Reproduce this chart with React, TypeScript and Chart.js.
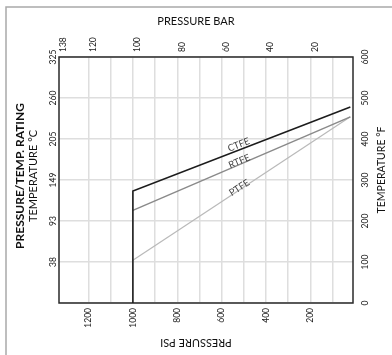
import React, { useEffect, useRef } from "react";
import { Chart, registerables } from "chart.js";

Chart.register(...registerables);

// ---- data ----
const PSI_GRID = [100, 200, 300, 400, 500, 600, 700, 800, 900, 1000, 1100, 1200];
const PSI_TICKS = [200, 400, 600, 800, 1000, 1200];
const PSI_MIN = 8;
const PSI_MAX = 1333;
const BAR_TICKS = [20, 40, 60, 80, 100, 120, 138];
const BAR_MIN = 0.8;
const BAR_MAX = 133.3;
const F_TICKS = [0, 100, 200, 300, 400, 500, 600];
const C_TICK_AT_F = [100, 200, 300, 400, 500, 600];
const C_TICKS = [38, 93, 149, 205, 260, 325];

const SERIES = ["CTFE", "RTFE", "PTFE"];
const CTFE_PSI = [1000, 1000, 20];
const CTFE_F = [0, 273, 478];
const RTFE_PSI = [1000, 20];
const RTFE_F = [226, 454];
const PTFE_PSI = [1000, 20];
const PTFE_F = [104, 454];
const LABEL_AT_PSI = 515;

// ---- styles ----
const FONT = "Lato, 'DejaVu Sans', sans-serif";
const COLORS = ["#1c1c1c", "#8a8a8a", "#b9b9b9"];
const WIDTHS = [1.6, 1.5, 1.2];
const LABEL_OFFSETS = [5, 3, 2];

const mk = (xs: number[], ys: number[]) => xs.map((x, i) => ({ x, y: ys[i] }));

function vtext(ctx: CanvasRenderingContext2D, text: string, x: number, y: number, align: CanvasTextAlign) {
  ctx.save();
  ctx.translate(x, y);
  ctx.rotate(-Math.PI / 2);
  ctx.textAlign = align;
  ctx.textBaseline = "middle";
  ctx.fillText(text, 0, 0);
  ctx.restore();
}

const decor = {
  id: "decor",
  beforeDraw(chart: any) {
    const ctx = chart.ctx as CanvasRenderingContext2D;
    ctx.save();
    ctx.fillStyle = "#ffffff";
    ctx.fillRect(0, 0, chart.width, chart.height);
    ctx.strokeStyle = "#a9a9a9";
    ctx.lineWidth = 1.5;
    ctx.beginPath();
    ctx.moveTo(6, chart.height + 4);
    ctx.lineTo(6, 7);
    ctx.lineTo(chart.width + 4, 7);
    ctx.stroke();
    ctx.restore();
  },
  beforeDatasetsDraw(chart: any) {
    const { left, right, top, bottom } = chart.chartArea;
    const ctx = chart.ctx as CanvasRenderingContext2D;
    ctx.save();
    ctx.strokeStyle = "#2a2a2a";
    ctx.lineWidth = 1.5;
    ctx.strokeRect(left, top, right - left, bottom - top);
    ctx.restore();
  },
  afterDatasetsDraw(chart: any) {
    const ctx = chart.ctx as CanvasRenderingContext2D;
    const sx = chart.scales.x;
    ctx.save();
    ctx.font = `9.5px ${FONT}`;
    ctx.fillStyle = "#444";
    ctx.textAlign = "center";
    ctx.textBaseline = "middle";
    chart.data.datasets.forEach((ds: any, i: number) => {
      const pts = chart.getDatasetMeta(i).data;
      const p0 = pts[pts.length - 2];
      const p1 = pts[pts.length - 1];
      const xt = sx.getPixelForValue(LABEL_AT_PSI);
      const t = (xt - p0.x) / (p1.x - p0.x);
      const yt = p0.y + t * (p1.y - p0.y);
      const ang = Math.atan2(p1.y - p0.y, p1.x - p0.x);
      ctx.save();
      ctx.translate(xt, yt);
      ctx.rotate(ang);
      ctx.fillText(ds.label, 0, -LABEL_OFFSETS[i]);
      ctx.restore();
    });
    ctx.restore();
  },
  afterDraw(chart: any) {
    const ctx = chart.ctx as CanvasRenderingContext2D;
    const { left, right, top, bottom } = chart.chartArea;
    const sx = chart.scales.x;
    const sb = chart.scales.xBar;
    const sy = chart.scales.y;
    ctx.save();
    ctx.fillStyle = "#222";
    ctx.font = `8.5px ${FONT}`;
    PSI_TICKS.forEach((v) => vtext(ctx, String(v), sx.getPixelForValue(v), bottom + 5, "right"));
    BAR_TICKS.forEach((v) => {
      const px = Math.max(sb.getPixelForValue(v), left) + 4.5;
      vtext(ctx, String(v), px, top - 5, "left");
    });
    C_TICKS.forEach((v, i) => vtext(ctx, String(v), left - 6, sy.getPixelForValue(C_TICK_AT_F[i]), "center"));
    F_TICKS.forEach((v) => vtext(ctx, String(v), right + 12, sy.getPixelForValue(v), "center"));

    // titles
    ctx.fillStyle = "#111";
    ctx.textAlign = "center";
    ctx.textBaseline = "middle";
    ctx.font = `11px ${FONT}`;
    ctx.fillText("PRESSURE BAR", chart.width / 2, 21);

    ctx.save();
    ctx.translate(chart.width / 2, 343);
    ctx.rotate(Math.PI);
    ctx.fillText("PRESSURE PSI", 0, 0);
    ctx.restore();

    ctx.font = `bold 12px ${FONT}`;
    vtext(ctx, "PRESSURE/TEMP. RATING", 20, 176, "center");
    ctx.font = `11px ${FONT}`;
    vtext(ctx, "TEMPERATURE °C", 33.5, 176, "center");
    ctx.font = `10.5px ${FONT}`;
    vtext(ctx, "TEMPERATURE °F", 381.5, 170, "center");
    ctx.restore();
  },
};

export default function App() {
  const ref = useRef<HTMLCanvasElement>(null);
  useEffect(() => {
    document.body.style.margin = "0";
    const grid = { color: "#dedede", lineWidth: 1.5, drawTicks: false };
    const chart = new Chart(ref.current as HTMLCanvasElement, {
      type: "line",
      data: {
        datasets: [
          { label: SERIES[0], data: mk(CTFE_PSI, CTFE_F) },
          { label: SERIES[1], data: mk(RTFE_PSI, RTFE_F) },
          { label: SERIES[2], data: mk(PTFE_PSI, PTFE_F) },
        ].map((d, i) => ({
          ...d,
          borderColor: COLORS[i],
          backgroundColor: COLORS[i],
          borderWidth: WIDTHS[i],
          pointRadius: 0,
          tension: 0,
          fill: false,
          xAxisID: "x",
          yAxisID: "y",
        })),
      },
      options: {
        animation: false,
        responsive: false,
        devicePixelRatio: 1,
        layout: { padding: 0 },
        plugins: { legend: { display: false }, tooltip: { enabled: false }, title: { display: false } },
        scales: {
          x: {
            type: "linear",
            position: "bottom",
            min: PSI_MIN,
            max: PSI_MAX,
            reverse: true,
            afterBuildTicks: (s: any) => {
              s.ticks = PSI_GRID.map((v) => ({ value: v }));
            },
            ticks: { display: false },
            grid,
            border: { display: false },
            afterFit: (s: any) => {
              s.height = 52;
            },
          },
          xBar: {
            type: "linear",
            position: "top",
            min: BAR_MIN,
            max: BAR_MAX,
            reverse: true,
            ticks: { display: false },
            grid: { display: false },
            border: { display: false },
            afterFit: (s: any) => {
              s.height = 57;
            },
          },
          y: {
            type: "linear",
            position: "left",
            min: 0,
            max: 600,
            ticks: { display: false, stepSize: 100 },
            grid,
            border: { display: false },
            afterFit: (s: any) => {
              s.width = 59;
            },
          },
          yR: {
            type: "linear",
            position: "right",
            min: 0,
            max: 600,
            ticks: { display: false },
            grid: { display: false },
            border: { display: false },
            afterFit: (s: any) => {
              s.width = 39;
            },
          },
        },
      } as any,
      plugins: [decor],
    });
    return () => chart.destroy();
  }, []);
  return (
    <div style={{ position: "relative", width: 392, height: 355 }}>
      <canvas ref={ref} width={392} height={355} style={{ display: "block", width: 392, height: 355 }} />
    </div>
  );
}
